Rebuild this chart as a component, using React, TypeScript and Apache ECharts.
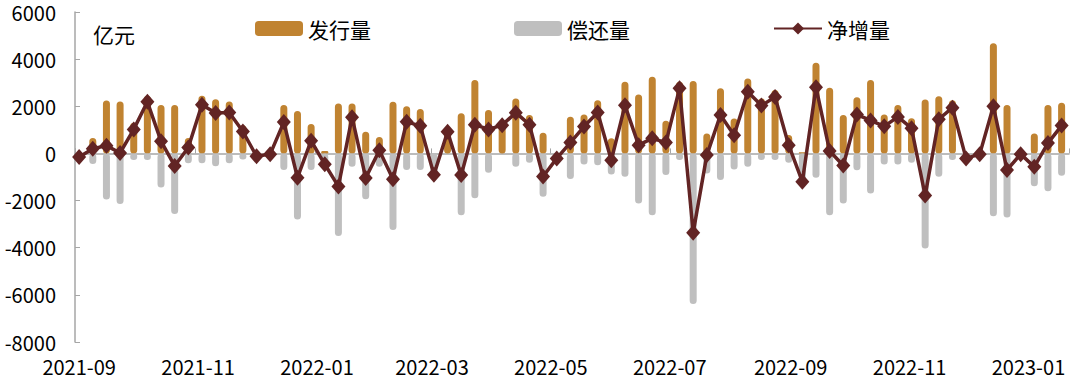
import React, { useEffect, useRef } from "react";
import * as echarts from "echarts";

const dates = [
  "2021-09-01", "2021-09-08", "2021-09-15", "2021-09-22", "2021-09-29",
  "2021-10-06", "2021-10-13", "2021-10-20", "2021-10-27",
  "2021-11-03", "2021-11-10", "2021-11-17", "2021-11-24",
  "2021-12-01", "2021-12-08", "2021-12-15", "2021-12-22", "2021-12-29",
  "2022-01-05", "2022-01-12", "2022-01-19", "2022-01-26",
  "2022-02-02", "2022-02-09", "2022-02-16", "2022-02-23",
  "2022-03-02", "2022-03-09", "2022-03-16", "2022-03-23", "2022-03-30",
  "2022-04-06", "2022-04-13", "2022-04-20", "2022-04-27",
  "2022-05-04", "2022-05-11", "2022-05-18", "2022-05-25",
  "2022-06-01", "2022-06-08", "2022-06-15", "2022-06-22", "2022-06-29",
  "2022-07-06", "2022-07-13", "2022-07-20", "2022-07-27",
  "2022-08-03", "2022-08-10", "2022-08-17", "2022-08-24", "2022-08-31",
  "2022-09-07", "2022-09-14", "2022-09-21", "2022-09-28",
  "2022-10-05", "2022-10-12", "2022-10-19", "2022-10-26",
  "2022-11-02", "2022-11-09", "2022-11-16", "2022-11-23", "2022-11-30",
  "2022-12-07", "2022-12-14", "2022-12-21", "2022-12-28",
  "2023-01-04", "2023-01-11", "2023-01-18",
];

const issuance = [
  0, 650, 2250, 2200, 1300, 2450, 2050, 2050, 650, 2450,
  2300, 2200, 1200, 0, 0, 2050, 1800, 1250, 100, 2120,
  2120, 920, 700, 2190, 2000, 1880, 0, 920, 1700, 3110,
  1840, 1200, 2330, 1630, 880, 0, 1560, 1650, 2260, 640,
  3040, 2500, 3250, 1390, 3040, 3070, 850, 2760, 1480, 3180,
  2330, 2690, 780, 50, 3850, 2790, 1630, 2380, 3110, 1650,
  2050, 1490, 2290, 2430, 2260, 0, 0, 4670, 2050, 0,
  850, 2050, 2150,
];

const repayment = [
  -150, -450, -1950, -2150, -280, -280, -1450, -2570, -420, -420,
  -540, -420, -260, -120, -30, -700, -2800, -700, -560, -3500,
  -570, -1940, -570, -3250, -700, -700, -900, 0, -2620, -1900,
  -820, 0, -570, -400, -1840, -210, -1090, -470, -500, -890,
  -990, -2120, -2620, -920, -280, -6390, -850, -1130, -680, -570,
  -280, -280, -400, -1250, -1030, -2620, -2120, -710, -1700, -470,
  -470, -400, -4030, -990, -280, -210, -30, -2660, -2720, -30,
  -1390, -1600, -950,
];

const netIncrease = [
  -150, 200, 330, 20, 1020, 2190, 520, -530, 250, 2070,
  1720, 1740, 930, -120, -30, 1330, -1030, 540, -460, -1400,
  1540, -1040, 130, -1100, 1340, 1170, -900, 920, -920, 1220,
  1020, 1200, 1730, 1220, -980, -210, 460, 1140, 1740, -290,
  2040, 350, 640, 460, 2760, -3360, -70, 1630, 770, 2620,
  2030, 2390, 350, -1200, 2810, 100, -510, 1650, 1400, 1150,
  1550, 1070, -1790, 1450, 1940, -210, -30, 2000, -700, -30,
  -570, 440, 1180,
];

const yTicks = { min: -8000, max: 6000, interval: 2000 };
const unitLabel = "亿元";

const FONT = "'Noto Sans CJK SC', 'Noto Sans', sans-serif";
const ORANGE = "#C08331";
const GRAY = "#BFBFBF";
const DARK = "#622424";
const AXIS_GRAY = "#A6A6A6";

export default function App() {
  const ref = useRef<HTMLDivElement>(null);

  useEffect(() => {
    if (!ref.current) return;
    const chart = echarts.init(ref.current, undefined, { renderer: "svg" });
    const pair = (arr: number[]) => arr.map((v, i) => [dates[i], v]);
    const xMin = Date.parse(dates[0] + "T00:00:00") - 8 * 3600 * 1000;
    const xMax = Date.parse(dates[dates.length - 1] + "T00:00:00") + 2 * 86400 * 1000;

    chart.setOption({
      animation: false,
      textStyle: { fontFamily: FONT },
      grid: { left: 75, right: 11, top: 12, bottom: 41, outerBoundsMode: "none" },
      legend: {
        left: 255,
        top: 18,
        padding: 0,
        itemWidth: 48,
        itemHeight: 15,
        itemGap: 143,
        textStyle: { fontSize: 21, color: "#000", fontFamily: FONT },
        data: [
          { name: "发行量", icon: "roundRect" },
          { name: "偿还量", icon: "roundRect" },
          { name: "净增量" },
        ],
      },
      graphic: [
        {
          type: "text",
          left: 93,
          top: 23,
          style: { text: unitLabel, fontSize: 21, fill: "#000", fontFamily: FONT },
        },
      ],
      xAxis: [
        {
          type: "time",
          min: xMin,
          max: xMax,
          splitNumber: 7,
          position: "bottom",
          axisLine: { show: false, onZero: false },
          axisTick: { show: false },
          splitLine: { show: false },
          axisLabel: {
            formatter: "{yyyy}-{MM}",
            fontSize: 20,
            color: "#000",
            margin: 14,
            fontFamily: FONT,
          },
        },
        {
          type: "time",
          min: xMin,
          max: xMax,
          splitNumber: 7,
          position: "bottom",
          axisLine: { show: true, onZero: true, lineStyle: { color: AXIS_GRAY, width: 1.5 } },
          axisTick: { show: true, inside: true, length: 5, lineStyle: { color: AXIS_GRAY } },
          axisLabel: { show: false },
          splitLine: { show: false },
        },
      ],
      yAxis: {
        type: "value",
        min: yTicks.min,
        max: yTicks.max,
        interval: yTicks.interval,
        axisLine: { show: true, lineStyle: { color: AXIS_GRAY, width: 1.5 } },
        axisTick: { show: true, inside: true, length: 5, lineStyle: { color: AXIS_GRAY } },
        splitLine: { show: false },
        axisLabel: {
          fontSize: 20,
          lineHeight: 20,
          color: "#000",
          margin: 19,
          fontFamily: FONT,
          formatter: (v: number) => String(v),
        },
      },
      series: [
        {
          name: "发行量",
          type: "bar",
          xAxisIndex: 0,
          data: pair(issuance),
          barWidth: 7,
          barGap: "-100%",
          itemStyle: { color: ORANGE, borderRadius: 3.5 },
          z: 2,
        },
        {
          name: "偿还量",
          type: "bar",
          xAxisIndex: 0,
          data: pair(repayment),
          barWidth: 7,
          barGap: "-100%",
          itemStyle: { color: GRAY, borderRadius: 3.5 },
          z: 2,
        },
        {
          name: "净增量",
          type: "line",
          xAxisIndex: 0,
          data: pair(netIncrease),
          symbol: "diamond",
          symbolSize: [14, 16],
          lineStyle: { color: DARK, width: 3.5 },
          itemStyle: { color: DARK },
          z: 5,
        },
      ],
    });
    return () => chart.dispose();
  }, []);

  return (
    <div
      ref={ref}
      style={{ position: "fixed", left: 0, top: 0, width: 1080, height: 383, background: "#fff" }}
    />
  );
}
